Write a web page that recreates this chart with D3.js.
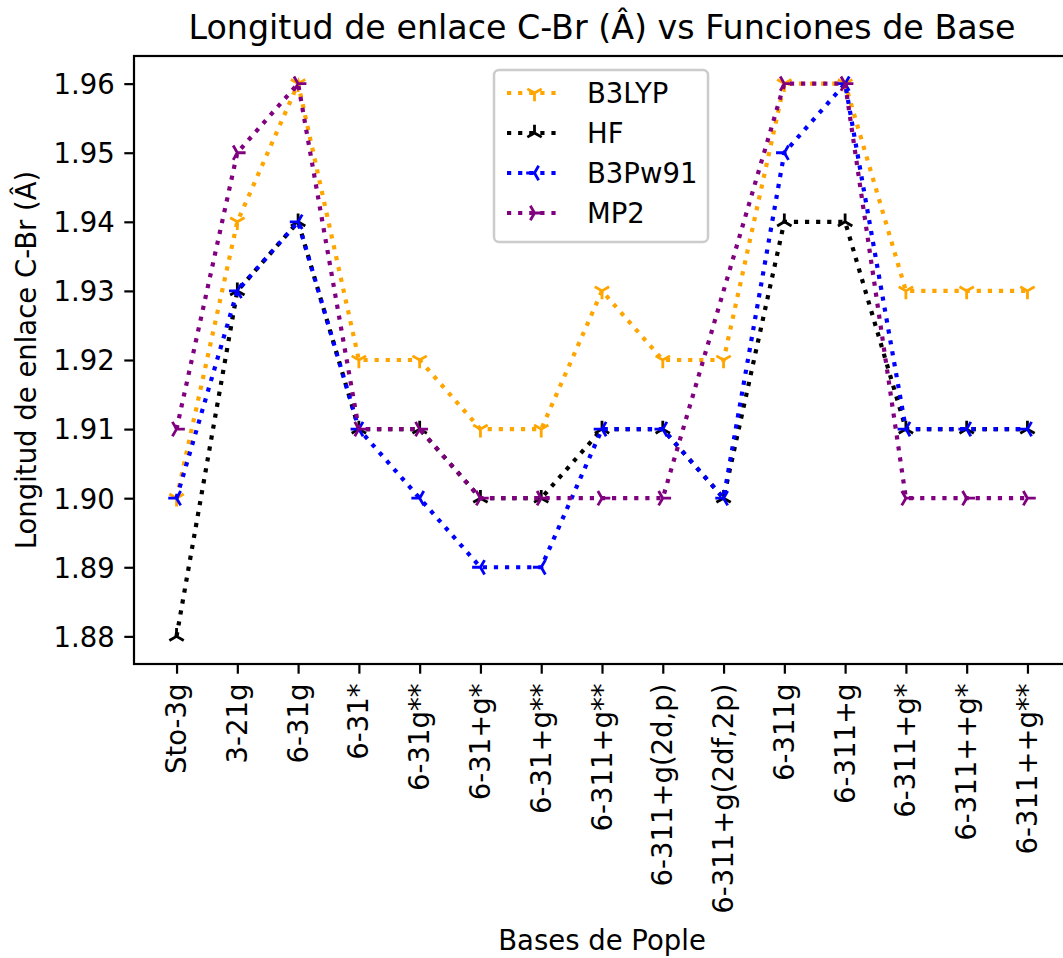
<!DOCTYPE html>
<html>
<head>
<meta charset="utf-8">
<script src="https://cdn.jsdelivr.net/npm/d3@7"></script>
<style>
  body { margin: 0; background: #fff; }
  text { font-family: "DejaVu Sans", sans-serif; }
</style>
</head>
<body>
<script>
// categories (x axis)
var bases = ["Sto-3g", "3-21g", "6-31g", "6-31*", "6-31g**", "6-31+g*", "6-31+g**",
             "6-311+g**", "6-311+g(2d,p)", "6-311+g(2df,2p)", "6-311g", "6-311+g",
             "6-311+g*", "6-311++g*", "6-311++g**"];
// series values, bond length in angstrom (null = no point for that basis)
var b3lyp  = [1.90, 1.94, 1.96, 1.92, 1.92, 1.91, 1.91, 1.93, 1.92, 1.92, 1.96, 1.96, 1.93, 1.93, 1.93];
var hf     = [1.88, 1.93, 1.94, 1.91, 1.91, 1.90, 1.90, 1.91, 1.91, 1.90, 1.94, 1.94, 1.91, 1.91, 1.91];
var b3pw91 = [1.90, 1.93, 1.94, 1.91, 1.90, 1.89, 1.89, 1.91, 1.91, 1.90, 1.95, 1.96, 1.91, 1.91, 1.91];
var mp2    = [1.91, 1.95, 1.96, 1.91, 1.91, 1.90, 1.90, 1.90, 1.90, null, 1.96, 1.96, 1.90, 1.90, 1.90];
var yTicks = [1.88, 1.89, 1.90, 1.91, 1.92, 1.93, 1.94, 1.95, 1.96];

var width = 1063;
var height = 958;
var plot = {left: 134, right: 1070, top: 56, bottom: 664};
var fontSize = 27.5;

var series = [
  {name: "B3LYP",  values: b3lyp,  color: "orange",  marker: "down"},
  {name: "HF",     values: hf,     color: "black",   marker: "up"},
  {name: "B3Pw91", values: b3pw91, color: "blue",    marker: "left"},
  {name: "MP2",    values: mp2,    color: "purple",  marker: "right"}
];

var svg = d3.select("body").append("svg")
            .attr("width", width)
            .attr("height", height);

var x = d3.scalePoint()
          .domain(bases)
          .range([plot.left, plot.right])
          .padding(0.7);

var y = d3.scaleLinear()
          .domain([1.876, 1.964])
          .range([plot.bottom, plot.top]);

// tri marker paths (matplotlib "1","2","3","4")
var r = 8.3;
function triPath(kind) {
  var c = 0.866 * r, h = 0.5 * r;
  if (kind == "down")  return "M0,0L0," + r + "M0,0L" + c + "," + (-h) + "M0,0L" + (-c) + "," + (-h);
  if (kind == "up")    return "M0,0L0," + (-r) + "M0,0L" + c + "," + h + "M0,0L" + (-c) + "," + h;
  if (kind == "left")  return "M0,0L" + (-r) + ",0M0,0L" + h + "," + c + "M0,0L" + h + "," + (-c);
  return "M0,0L" + r + ",0M0,0L" + (-h) + "," + c + "M0,0L" + (-h) + "," + (-c);
}

// axes
var xAxis = svg.append("g")
   .attr("transform", "translate(0," + plot.bottom + ")")
   .call(d3.axisBottom(x).tickSize(9.7).tickSizeOuter(0).tickPadding(9));
xAxis.select(".domain").remove();
xAxis.selectAll("line").attr("stroke", "#000").attr("stroke-width", 2.2);
xAxis.selectAll("text")
     .attr("font-size", fontSize)
     .attr("fill", "#000")
     .attr("text-anchor", "end")
     .attr("transform", "rotate(-90)")
     .attr("x", -19.5)
     .attr("y", 0)
     .attr("dy", "0.33em");

var yAxis = svg.append("g")
   .attr("transform", "translate(" + plot.left + ",0)")
   .call(d3.axisLeft(y).tickValues(yTicks).tickFormat(d3.format(".2f"))
           .tickSize(9.7).tickSizeOuter(0).tickPadding(9.5));
yAxis.select(".domain").remove();
yAxis.selectAll("line").attr("stroke", "#000").attr("stroke-width", 2.2);
yAxis.selectAll("text").attr("font-size", fontSize).attr("fill", "#000").attr("dy", "0.36em");

// series lines and markers
var line = d3.line()
             .x(function(d) { return x(d.base); })
             .y(function(d) { return y(d.value); });

series.forEach(function(s) {
  var pts = s.values.map(function(v, i) { return {base: bases[i], value: v}; })
                    .filter(function(d) { return d.value != null; });
  svg.append("path")
     .datum(pts)
     .attr("d", line)
     .attr("fill", "none")
     .attr("stroke", s.color)
     .attr("stroke-width", 4.2)
     .attr("stroke-dasharray", "4.2,6.9");
  svg.append("g").selectAll("path")
     .data(pts)
     .enter().append("path")
     .attr("transform", function(d) { return "translate(" + x(d.base) + "," + y(d.value) + ")"; })
     .attr("d", triPath(s.marker))
     .attr("fill", "none")
     .attr("stroke", s.color)
     .attr("stroke-width", 2.8);
});

// spines
svg.append("rect")
   .attr("x", plot.left).attr("y", plot.top)
   .attr("width", plot.right - plot.left).attr("height", plot.bottom - plot.top)
   .attr("fill", "none").attr("stroke", "#000").attr("stroke-width", 2.2);

// titles
svg.append("text")
   .attr("x", (plot.left + plot.right) / 2).attr("y", 39)
   .attr("text-anchor", "middle").attr("font-size", 33.3)
   .text("Longitud de enlace C-Br (Â) vs Funciones de Base");

svg.append("text")
   .attr("x", (plot.left + plot.right) / 2).attr("y", 950)
   .attr("text-anchor", "middle").attr("font-size", fontSize)
   .text("Bases de Pople");

svg.append("text")
   .attr("transform", "translate(36," + (plot.top + plot.bottom) / 2 + ") rotate(-90)")
   .attr("text-anchor", "middle").attr("font-size", fontSize)
   .text("Longitud de enlace C-Br (Â)");

// legend
var legend = svg.append("g").attr("transform", "translate(494,70)");
legend.append("rect")
      .attr("width", 214).attr("height", 172)
      .attr("rx", 5).attr("ry", 5)
      .attr("fill", "#fff").attr("fill-opacity", 0.8)
      .attr("stroke", "#cccccc").attr("stroke-width", 2.5);

var item = legend.selectAll("g.item")
                 .data(series)
                 .enter().append("g")
                 .attr("class", "item")
                 .attr("transform", function(d, i) { return "translate(0," + (23 + i * 40) + ")"; });
item.append("line")
    .attr("x1", 13).attr("x2", 68).attr("y1", 0).attr("y2", 0)
    .attr("stroke", function(d) { return d.color; })
    .attr("stroke-width", 4.2)
    .attr("stroke-dasharray", "4.2,6.9");
item.append("path")
    .attr("transform", "translate(40.5,0)")
    .attr("d", function(d) { return triPath(d.marker); })
    .attr("fill", "none")
    .attr("stroke", function(d) { return d.color; })
    .attr("stroke-width", 2.8);
item.append("text")
    .attr("x", 93).attr("y", 0).attr("dy", "0.36em")
    .attr("font-size", fontSize)
    .text(function(d) { return d.name; });
</script>
</body>
</html>
